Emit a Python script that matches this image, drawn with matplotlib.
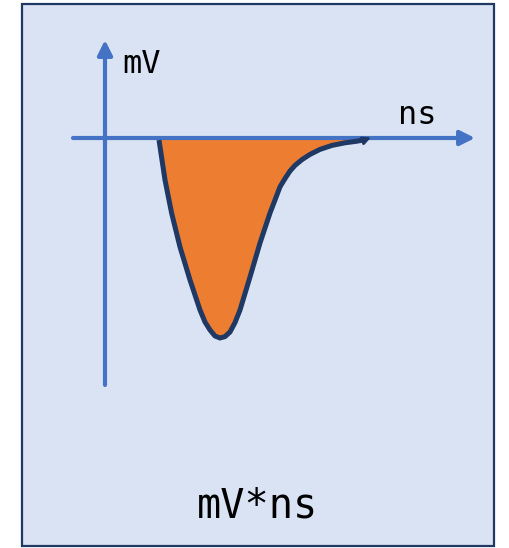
import matplotlib.pyplot as plt
from matplotlib.patches import Rectangle

# pulse shape (time in ns, amplitude in mV)
pulse_t = [2.7, 3.0, 3.33, 3.75, 4.25, 4.75, 5.0, 5.25, 5.5, 5.75, 6.0, 6.25, 6.5,
           6.75, 7.25, 7.75, 8.25, 8.5, 8.75, 9.0, 9.25, 9.5, 9.85, 10.25, 10.75,
           11.35, 12.0, 12.6, 13.05, 13.3]
pulse_v = [-0.1, -2.1, -3.75, -5.45, -7.1, -8.6, -9.2, -9.6, -9.9, -10.0, -9.93, -9.7, -9.23,
           -8.6, -6.95, -5.25, -3.75, -3.1, -2.44, -2.03, -1.65, -1.37, -1.08, -0.82, -0.57,
           -0.37, -0.24, -0.16, -0.07, 0.03]

x_label = "ns"
y_label = "mV"
area_label = "mV*ns"

blue = "#4472C4"
navy = "#1F3864"
orange = "#ED7D31"

fig = plt.figure(figsize=(5.10, 5.48), dpi=100)
fig.patch.set_facecolor("white")
ax = fig.add_axes([0, 0, 1, 1])
ax.set_xlim(-5.25, 20.25)
ax.set_ylim(-20.5, 6.9)
ax.axis("off")

# light blue panel with dark border
ax.add_patch(Rectangle((22 / 510, 2 / 548), 472 / 510, 542 / 548,
                       transform=fig.transFigure, facecolor="#DAE3F3",
                       edgecolor=navy, linewidth=1.6, zorder=0, clip_on=False))

# filled area under the pulse
ax.fill_between(pulse_t[:-1], pulse_v[:-1], 0, color=orange, linewidth=0, zorder=2)

# axes arrows
ax.annotate("", xy=(18.5, 0), xytext=(-1.6, 0),
            arrowprops=dict(arrowstyle="-|>", color=blue, lw=3, mutation_scale=22,
                            shrinkA=0, shrinkB=0), zorder=3)
ax.annotate("", xy=(0, 4.9), xytext=(0, -12.35),
            arrowprops=dict(arrowstyle="-|>", color=blue, lw=3, mutation_scale=22,
                            shrinkA=0, shrinkB=0), zorder=3)

# pulse outline
ax.plot(pulse_t[:-1], pulse_v[:-1], color=navy, lw=3.6, solid_capstyle="butt",
        solid_joinstyle="round", zorder=4)
ax.annotate("", xy=(pulse_t[-1], pulse_v[-1]), xytext=(pulse_t[-2], pulse_v[-2]),
            arrowprops=dict(arrowstyle="-|>", color=navy, lw=2, mutation_scale=11,
                            shrinkA=0, shrinkB=0), zorder=4)

ax.text(0.85, 3.25, y_label, fontsize=23, family="DejaVu Sans Mono", va="baseline")
ax.text(14.65, 0.7, x_label, fontsize=23, family="DejaVu Sans Mono", va="baseline")
ax.text(7.65, -19.0, area_label, fontsize=29, family="DejaVu Sans Mono",
        va="baseline", ha="center")

fig.savefig("out.png", dpi=100)
